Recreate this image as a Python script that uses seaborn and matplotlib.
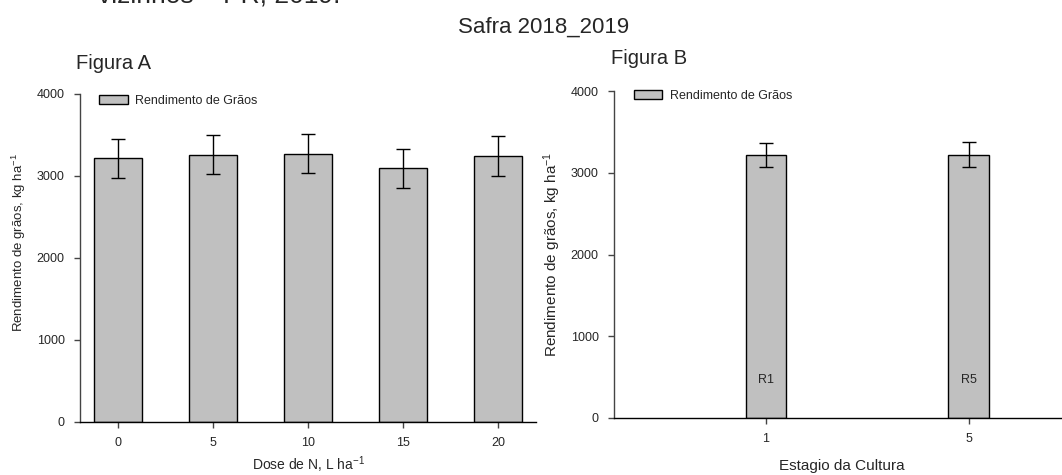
import matplotlib
matplotlib.use("Agg")
import matplotlib.pyplot as plt
import seaborn as sns
import numpy as np
import pandas as pd
from matplotlib.patches import Patch

# ---- data ----
dose_A = [0, 5, 10, 15, 20]
rend_A = [3216, 3256, 3273, 3094, 3244]
err_A = [238, 238, 238, 238, 240]

estagio_B = [1, 5]
rend_B = [3217, 3221]
err_B = [152, 152]
labels_B = ["R1", "R5"]

yticks = [0, 1000, 2000, 3000, 4000]
xticks_A = [0, 5, 10, 15, 20]
xticks_B = [1, 5]

sns.set_style("ticks")
plt.rcParams["font.family"] = ["Liberation Sans", "DejaVu Sans"]
plt.rcParams["mathtext.default"] = "regular"

W, H = 1062, 475
fig = plt.figure(figsize=(W / 100, H / 100), dpi=100)

def px_axes(left, top, right, bottom):
    return fig.add_axes([left / W, 1 - bottom / H, (right - left) / W, (bottom - top) / H])

axA = px_axes(80, 94, 536, 421.5)
axB = px_axes(614, 91, 1070, 418)

bar_color = "#c0c0c0"

dfA = pd.DataFrame({"dose": dose_A, "rend": rend_A})
sns.barplot(data=dfA, x="dose", y="rend", native_scale=True, width=0.5,
            color=bar_color, saturation=1, edgecolor="black", linewidth=1,
            errorbar=None, ax=axA)
axA.errorbar(dose_A, rend_A, yerr=err_A, fmt="none", ecolor="black",
             elinewidth=1, capsize=5, capthick=1)

dfB = pd.DataFrame({"est": estagio_B, "rend": rend_B})
sns.barplot(data=dfB, x="est", y="rend", native_scale=True, width=0.2,
            color=bar_color, saturation=1, edgecolor="black", linewidth=1,
            errorbar=None, ax=axB)
axB.errorbar(estagio_B, rend_B, yerr=err_B, fmt="none", ecolor="black",
             elinewidth=1, capsize=5, capthick=1)
for xv, lab in zip(estagio_B, labels_B):
    axB.text(xv, 460, lab, ha="center", va="center", fontsize=9)

for ax, xlim, xt in [(axA, (-2, 22), xticks_A), (axB, (-2, 7), xticks_B)]:
    ax.set_xlim(*xlim)
    ax.set_ylim(0, 4000)
    ax.set_xticks(xt)
    ax.set_xticklabels([str(v) for v in xt])
    ax.set_yticks(yticks)
    ax.set_yticklabels([str(v) for v in yticks])
    for s in ["top", "right"]:
        ax.spines[s].set_visible(False)
    ax.spines["left"].set_color("#444444")
    ax.spines["bottom"].set_color("black")
    ax.spines["left"].set_linewidth(1)
    ax.spines["bottom"].set_linewidth(1)
    ax.tick_params(axis="both", direction="out", length=4, width=1,
                   color="#444444", labelsize=9, pad=7)
    ax.legend(handles=[Patch(facecolor=bar_color, edgecolor="black", linewidth=1)],
              labels=["Rendimento de Grãos"], frameon=False, fontsize=9,
              handlelength=2.3, handleheight=0.7, handletextpad=0.6,
              borderpad=0, borderaxespad=0, loc="center left",
              bbox_to_anchor=((99 if ax is axA else 633.5) / W,
                              1 - (100.5 if ax is axA else 95.7) / H),
              bbox_transform=fig.transFigure)

axA.set_xlabel("Dose de N, L ha$^{-1}$", fontsize=10)
axA.set_ylabel("Rendimento de grãos, kg ha$^{-1}$", fontsize=9.5)
axA.xaxis.set_label_coords(0.5, -0.1)
axA.yaxis.set_label_coords(-0.114, 0.545)

axB.set_xlabel("Estagio da Cultura", fontsize=11)
axB.set_ylabel("Rendimento de grãos, kg ha$^{-1}$", fontsize=11)
axB.xaxis.set_label_coords(0.5, -0.1245)
axB.yaxis.set_label_coords(-0.112, 0.5)

fig.text(98 / W, 1 - 3 / H, "vizinhos – PR, 2019.", fontsize=19, ha="left", va="baseline")
fig.text(544 / W, 1 - 32.7 / H, "Safra 2018_2019", fontsize=16, ha="center", va="baseline")
fig.text(76.4 / W, 1 - 69 / H, "Figura A", fontsize=14.5, ha="left", va="baseline")
fig.text(610.8 / W, 1 - 64.4 / H, "Figura B", fontsize=14.5, ha="left", va="baseline")

fig.savefig("out.png", dpi=100)
